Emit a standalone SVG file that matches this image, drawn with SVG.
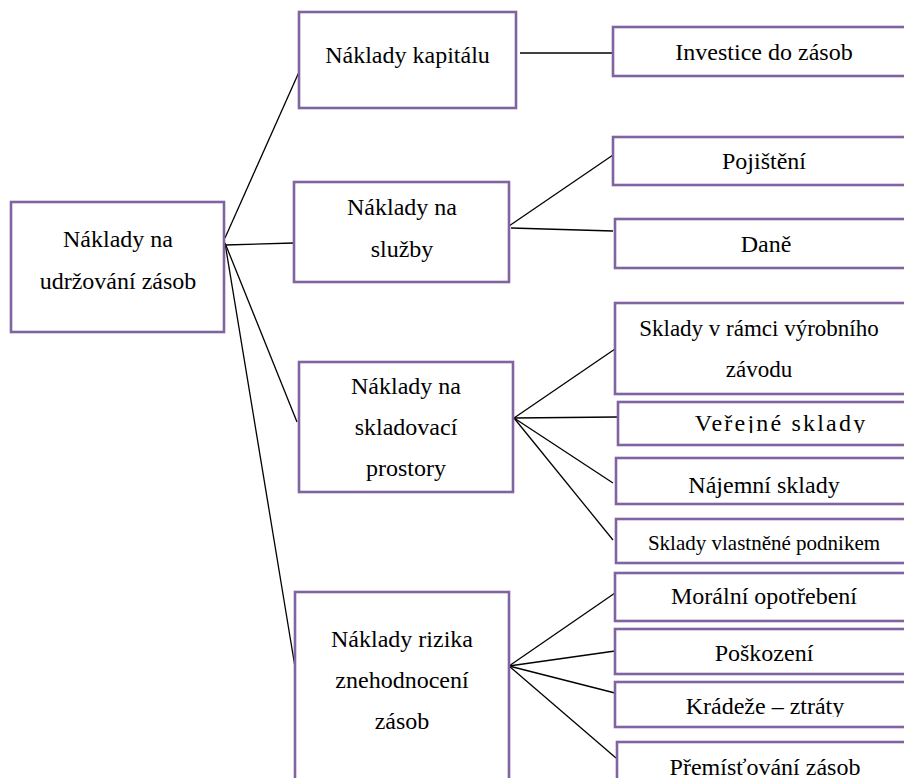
<svg xmlns="http://www.w3.org/2000/svg" width="904" height="778" viewBox="0 0 904 778">
<style>
.box{fill:#ffffff;stroke:#8064a2;stroke-width:2.6}
.t{font-family:'Liberation Serif','Times New Roman','DejaVu Serif',serif;font-size:24px;fill:#000000;text-anchor:middle}
.s{font-size:21px}
.m{font-size:23px}
.c{stroke:#000000;stroke-width:1.3;fill:none}
</style>
<defs>
<clipPath id="clipVer"><rect x="600" y="395" width="310" height="38"/></clipPath>
<clipPath id="clipKra"><rect x="600" y="680" width="310" height="37"/></clipPath>
</defs>
<rect width="904" height="778" fill="#ffffff"/>
<g id="connectors">
<line class="c" x1="225" y1="238" x2="299" y2="72"/>
<line class="c" x1="225" y1="245" x2="294" y2="243"/>
<line class="c" x1="225" y1="243" x2="297" y2="422"/>
<line class="c" x1="225" y1="243" x2="295" y2="667"/>
<line class="c" x1="520" y1="53" x2="613" y2="53"/>
<line class="c" x1="509" y1="226" x2="613" y2="155"/>
<line class="c" x1="511" y1="228" x2="613" y2="231"/>
<line class="c" x1="514" y1="418" x2="615" y2="349"/>
<line class="c" x1="514" y1="418" x2="617" y2="417"/>
<line class="c" x1="514" y1="418" x2="613" y2="483"/>
<line class="c" x1="514" y1="418" x2="613" y2="540"/>
<line class="c" x1="509" y1="666" x2="615" y2="593"/>
<line class="c" x1="509" y1="666" x2="615" y2="651"/>
<line class="c" x1="509" y1="666" x2="615" y2="693"/>
<line class="c" x1="509" y1="666" x2="616" y2="758"/>
</g>
<g font-family="Liberation Serif, Times New Roman, DejaVu Serif, serif">
<g id="root">
<rect class="box" x="11" y="202" width="213" height="130"/>
<text class="t" x="118" y="247">Náklady na</text>
<text class="t" x="118" y="289">udržování zásob</text>
</g>
<g id="kapital">
<rect class="box" x="299" y="12" width="217" height="96"/>
<text class="t" x="407.5" y="63">Náklady kapitálu</text>
</g>
<g id="investice">
<rect class="box" x="613" y="27" width="300" height="49"/>
<text class="t" x="764" y="60">Investice do zásob</text>
</g>
<g id="sluzby">
<rect class="box" x="294" y="182" width="215" height="100"/>
<text class="t" x="402" y="215">Náklady na</text>
<text class="t" x="402" y="257">služby</text>
</g>
<g id="pojisteni">
<rect class="box" x="613" y="137" width="300" height="48"/>
<text class="t" x="764" y="169">Pojištění</text>
</g>
<g id="dane">
<rect class="box" x="615" y="219" width="300" height="49"/>
<text class="t" x="766" y="252">Daně</text>
</g>
<g id="skladovaci">
<rect class="box" x="299" y="362" width="214" height="130"/>
<text class="t" x="406" y="394">Náklady na</text>
<text class="t" x="406" y="435">skladovací</text>
<text class="t" x="406" y="476">prostory</text>
</g>
<g id="sklady-ramci">
<rect class="box" x="615" y="303" width="300" height="91"/>
<text class="t m" x="759" y="336">Sklady v rámci výrobního</text>
<text class="t m" x="759" y="377">závodu</text>
</g>
<g id="verejne">
<rect class="box" x="618" y="402" width="300" height="43"/>
<text class="t" x="781" y="431" letter-spacing="2.2" clip-path="url(#clipVer)">Veřejné sklady</text>
</g>
<g id="najemni">
<rect class="box" x="616" y="458" width="300" height="46"/>
<text class="t" x="764" y="493">Nájemní sklady</text>
</g>
<g id="vlastnene">
<rect class="box" x="616" y="519" width="300" height="44"/>
<text class="t s" x="764" y="550">Sklady vlastněné podnikem</text>
</g>
<g id="riziko">
<rect class="box" x="295" y="592" width="214" height="200"/>
<text class="t" x="402" y="647">Náklady rizika</text>
<text class="t" x="402" y="688">znehodnocení</text>
<text class="t" x="402" y="729">zásob</text>
</g>
<g id="moralni">
<rect class="box" x="615" y="573" width="300" height="48"/>
<text class="t" x="764" y="604">Morální opotřebení</text>
</g>
<g id="poskozeni">
<rect class="box" x="615" y="629" width="300" height="45"/>
<text class="t" x="764" y="661">Poškození</text>
</g>
<g id="kradeze">
<rect class="box" x="615" y="682" width="300" height="45"/>
<text class="t" x="765" y="714" clip-path="url(#clipKra)">Krádeže – ztráty</text>
</g>
<g id="premistovani">
<rect class="box" x="617" y="742" width="300" height="60"/>
<text class="t" x="765" y="775">Přemísťování zásob</text>
</g>
</g>
</svg>
